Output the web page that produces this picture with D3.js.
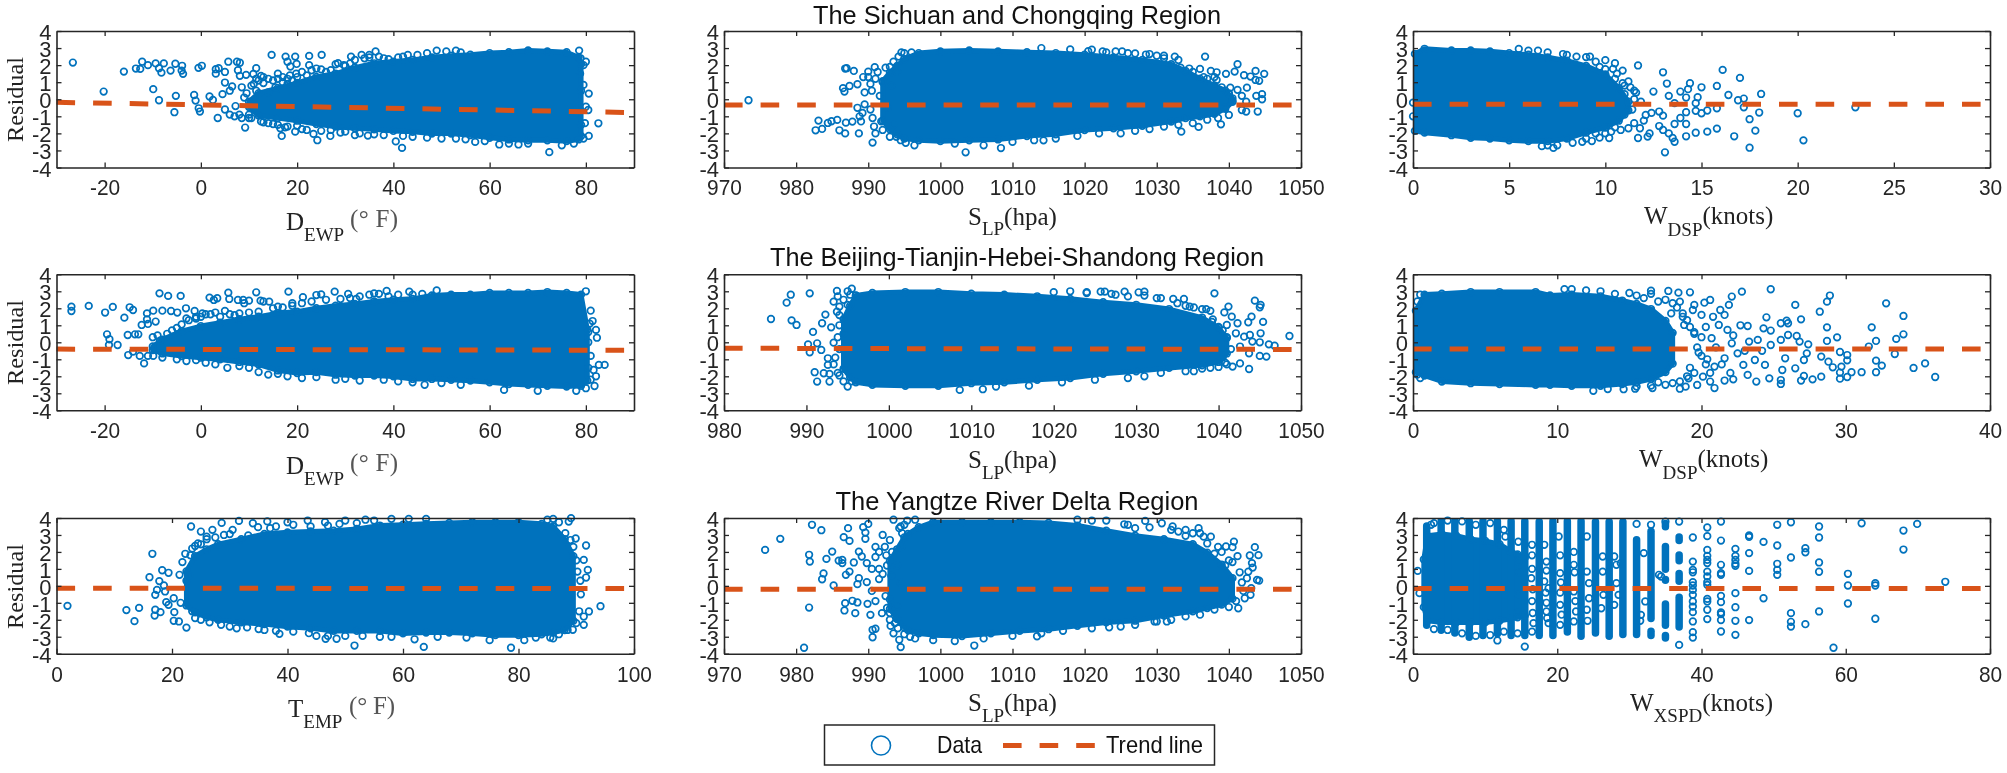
<!DOCTYPE html>
<html><head><meta charset="utf-8">
<script src="https://cdn.jsdelivr.net/npm/d3@7/dist/d3.min.js"></script>
<style>html,body{margin:0;padding:0;background:#fff}svg{display:block;filter:blur(.45px)}</style>
</head><body><svg id="c" width="2007" height="773"></svg>
<script>
// ---------- values ----------
const residualTicks=[-4,-3,-2,-1,0,1,2,3,4];
const dewTicks=[-20,0,20,40,60,80];
const slpTicks70=[970,980,990,1000,1010,1020,1030,1040,1050];
const slpTicks80=[980,990,1000,1010,1020,1030,1040,1050];
const wdsp30Ticks=[0,5,10,15,20,25,30];
const wdsp40Ticks=[0,10,20,30,40];
const tempTicks=[0,20,40,60,80,100];
const wxspdTicks=[0,20,40,60,80];
const regionTitles=["The Sichuan and Chongqing Region","The Beijing-Tianjin-Hebei-Shandong Region","The Yangtze River Delta Region"];

// dense clouds: [x, lowest residual, highest residual]
const p1Cloud=[[10,-.7,.1],[12,-1.2,.6],[16,-1.35,.9],[20,-1.5,1.2],[24,-1.7,1.55],[28,-1.85,1.75],[32,-1.95,2.1],[36,-2,2.35],[40,-2.1,2.45],[44,-2.15,2.55],[48,-2.25,2.7],[52,-2.25,2.8],[56,-2.35,2.85],[60,-2.5,2.95],[64,-2.6,3],[68,-2.65,3.1],[72,-2.65,3.05],[76,-2.7,3],[78.5,-2.6,2.7],[79,-2.4,2.3]];
const p2Cloud=[[992,-1.5,1.3],[993,-2,1.8],[994,-2.3,2.2],[995,-2.55,2.6],[997,-2.65,2.95],[1000,-2.7,3.05],[1004,-2.65,3.1],[1008,-2.6,3.05],[1012,-2.4,3],[1016,-2.3,2.95],[1020,-2.05,2.85],[1024,-1.95,2.7],[1028,-1.8,2.55],[1032,-1.55,2.3],[1034,-1.35,1.9],[1036,-1.25,1.45],[1038,-1.1,1.05],[1039.5,-.8,.75],[1040.5,-.4,.3]];
const p3Cloud=[[.1,-2.1,2.9],[.6,-2.2,3.2],[2,-2.35,3.1],[3,-2.5,3.1],[4,-2.55,3.05],[5,-2.65,2.95],[6,-2.7,2.85],[7,-2.7,2.7],[8,-2.55,2.5],[9,-2.2,2.2],[10,-1.9,1.7],[10.7,-1.5,.9],[11.2,-.9,.1]];
const p4Cloud=[[-10,-.7,0],[-8,-.9,.4],[-4,-1.05,.9],[0,-1.15,1.2],[4,-1.25,1.4],[8,-1.4,1.6],[12,-1.55,1.75],[16,-1.9,1.95],[20,-2.05,2.05],[24,-2,2.25],[28,-2.15,2.4],[32,-2.2,2.5],[36,-2.2,2.65],[40,-2.25,2.75],[44,-2.4,2.8],[48,-2.4,3],[52,-2.45,3.05],[56,-2.5,3.05],[60,-2.6,3.15],[64,-2.7,3.15],[68,-2.75,3.15],[72,-2.8,3.2],[76,-2.85,3.15],[79,-2.8,3.05],[80.3,-2.5,1]];
const p5Cloud=[[994.5,-1.8,1.6],[995.3,-2.3,2.4],[996,-2.6,3],[998,-2.75,3.15],[1002,-2.8,3.2],[1006,-2.8,3.2],[1010,-2.65,3.1],[1014,-2.6,3.05],[1018,-2.45,2.95],[1022,-2.35,2.8],[1026,-2.1,2.6],[1030,-1.95,2.45],[1034,-1.75,2.2],[1038,-1.6,1.7],[1040,-1.4,1.1],[1041,-.9,.5]];
const p6Cloud=[[.2,-2,2.1],[.8,-2.2,3.05],[2,-2.55,3.1],[4,-2.65,3.2],[6,-2.7,3.2],[8.5,-2.75,3.2],[9.5,-2.75,3],[11,-2.8,3.05],[13,-2.8,2.95],[14.5,-2.7,2.7],[15.5,-2.6,2.5],[16.5,-2.4,2.2],[17.5,-2,1.5],[18,-1.5,.8]];
const p7Cloud=[[22.5,-1.4,1.1],[24,-1.8,2],[26,-2.1,2.4],[28,-2.25,2.7],[32,-2.4,3],[36,-2.5,3.3],[40,-2.65,3.4],[44,-2.75,3.45],[48,-2.9,3.5],[52,-2.9,3.6],[56,-2.9,3.8],[60,-3.05,3.85],[64,-3,3.9],[68,-3,3.95],[72,-3.05,4],[76,-3.15,4],[80,-3.15,4],[84,-3.1,3.9],[86,-3,3.75],[88,-2.85,3],[89.5,-2.3,2]];
const p8Cloud=[[993,-1.6,1.7],[994,-2.2,2.4],[995,-2.7,3.1],[995.5,-2.85,3.3],[997,-3.05,3.7],[999,-3.15,4],[1003,-3.2,4],[1007,-3.05,4],[1011,-2.9,4],[1015,-2.8,3.95],[1019,-2.6,3.8],[1023,-2.4,3.5],[1027,-2.3,3.2],[1031,-2,3],[1035,-1.75,2.7],[1037,-1.55,2.2],[1039,-1.35,1.5],[1040.5,-1,.7]];
const p9Cloud=[[1.5,-1.5,1.8],[2,-2.3,3.2],[4,-2.4,3.3],[6,-2.4,3.2],[8,-2.4,3],[10,-2.4,2.9],[12,-2.3,2.7],[13.5,-2.2,2.3],[14.5,-2.1,2.1],[15.5,-2,1.9]];
// stripes of the rounded wind speeds: [x, lowest, highest]
const p9Stripes=[[1.9,-2.5,3.7],[3.9,-2.8,4],[5.8,-2.95,4],[7.8,-3.2,4],[9.7,-3.1,4],[11.7,-3,4],[13.6,-3.1,4],[15.5,-3.1,4],[17.5,-3.1,3.95],[19.4,-3.1,4],[21.4,-2.9,4],[23.3,-3.15,4],[25.3,-2.95,3.95],[27.2,-3.15,3.95],[29.1,-3.05,3.95],[31,-3.05,2.9],[33,-2.1,3.4],[33,-3.1,-2.5],[35,-2.5,-.9],[35,.2,.5],[35,.8,2.5],[35,3.3,3.85],[35,-3.1,-2.9],[36.9,-2.6,-.5],[36.9,.1,.9],[36.9,1.3,2],[36.9,2.5,3.05]];

// separate circles: [x, residual]
const p1Points=[[-26.6,2.15],[-20.2,.45],[-16,1.62],[-13.5,1.8],[-12.2,2.2],[-12.6,1.78],[-11,2],[-9.4,2.1],[-7.7,2.1],[-8.7,1.82],[-8.2,1.56],[-6.3,1.68],[-5.3,2.08],[-3.9,1.96],[-4,1.68],[-3.7,1.49],[-9.9,.59],[-8.7,-.06],[-5.2,.2],[-5.5,-.76],[-1.4,.25],[-1.1,-.08],[-.45,-.53],[-.2,-.72],[-.5,1.84],[.2,1.96],[1.8,.16],[2.5,-.04],[3.5,-1.1],[3.1,1.76],[3.7,1.82],[3.1,1.5],[5,1.6],[5.7,2.2],[5,.98],[6.5,.75],[7.5,2.2],[8.1,2.14],[7.7,1.7],[8.1,1.37],[9.4,1.43],[9.2,-1.66],[11.5,1.82],[10.9,1.48],[12.5,1.37],[14.7,2.6],[17.6,2.5],[19.6,2.5],[18,2.2],[18.6,1.92],[19.9,2.07],[19.8,1.5],[22.5,2.54],[22.5,2],[25.1,2.6],[16.8,-2.15],[19.6,-1.9],[23.4,-2.03],[24.2,-2.4],[26.9,-2.15],[31.2,2.5],[28.5,2.12],[29.7,2],[36.3,2.8],[33.4,2.6],[35,2.6],[32,-2.1],[34.7,-2.13],[40.5,-2.47],[41.8,-2.85],[78.6,2.85],[72.4,-3.1],[82.6,-1.41],[80.6,-2.15],[80.6,.33],[79.5,2],[80,2.2],[79.5,.84],[80,-.43],[80.5,-.63],[4.5,.3],[6,.5],[7.2,-.4],[8.5,.7],[9.5,.35],[10.5,.8],[11.5,.5],[13,.95],[14,.4],[15.5,.7],[17,1],[18,1.2],[10,-1.1],[12.5,-1.3],[15,-1.45],[17.5,-1.65]];
const p1Fringe=[[5,-.6],[6,-.9],[7,-1],[8,-.9],[8.5,-1.1],[9,.1],[10,-.9],[10.5,-1.1],[11,.9],[11.5,1.2],[12,1.1],[13,1.3],[14,1.2],[15,1.1],[16,1.5],[16,1.2],[17,1.3],[18,.9],[18.5,1.4],[19,1.1],[20,1.3],[21,1.6],[22,1.4],[23,1.7],[24,1.8],[25,1.75],[26,1.6],[27,1.7],[28,2.05],[30,1.95],[31,2.1],[32,2.3],[34,2.4],[35,2.45],[37,2.5],[38,2.4],[39,2.35],[41,2.45],[42,2.5],[43,2.6],[45,2.6],[47,2.7],[49,2.85],[51,2.8],[53,2.85],[54,2.75],[13,-1.35],[14,-1.4],[16,-1.5],[16.5,-1.7],[18,-1.6],[20,-1.55],[21,-1.75],[22,-1.8],[25,-1.85],[27,-1.8],[29,-1.95],[30,-1.9],[33,-2],[36,-2.05],[38,-2.1],[42,-2.15],[44,-2.2],[47,-2.25],[50,-2.3],[53,-2.3],[55,-2.35],[57,-2.5],[59,-2.45],[62,-2.65],[64,-2.6],[66,-2.65],[68,-2.6],[75,-2.7],[77.5,-2.6],[79,-1.5],[79.5,-2.3],[79.8,-1.4],[79,.5],[78.8,1.5],[78.9,2.4]];
const p2Points=[[973.4,-.06],[983.1,-1.25],[982.7,-1.82],[983.6,-1.74],[984.4,-1.39],[984.9,-1.29],[985.7,-1.21],[986,-1.82],[986.8,-2],[986.9,-1.37],[987.8,-1.31],[986.8,1.8],[987,1.82],[988,1.66],[986.5,.65],[986.7,.45],[987.4,.78],[988.5,.88],[990.9,1.88],[990,1.62],[990.6,-2.54],[988.7,-2],[1003.5,-3.11],[1008.4,-2.86],[1014.3,-2.41],[1033.4,-1.9],[1035.8,-1.62],[1038.9,-1.47],[1036.7,2.5],[1032.5,2.5],[1036,1.78],[1037.5,1.66],[1038.3,1.58],[1039.6,1.49],[1038.3,1.13],[1041.2,2.05],[1040.8,1.62],[1042.1,1.41],[1043,1.33],[1043.7,1.66],[1043.7,1.13],[1044.2,1.08],[1044.9,1.49],[1042.5,.68],[1041.2,.55],[1041.8,.2],[1044.6,.3],[1044.6,0],[1043.8,.2],[1042.4,-.14],[1041.8,-.63],[1042.4,-.72],[1044,-.72],[1040,-.92],[1040.2,.68],[1040,.35],[1024.3,2.8],[1025.2,2.8],[1022.5,2.8],[1020.5,2.82],[1030,2.55],[1028.5,2.62],[1031,2.55]];
const p2Fringe=[[988.5,-.5],[988.8,-1],[989,-1.3],[989.2,-.8],[989.5,-.3],[989.5,.4],[989.3,1.3],[990,1.3],[990.3,.9],[990.5,.5],[990.3,-.6],[990.6,-1.1],[990.8,-1.6],[991,-2],[991,1.2],[991.3,1.6],[991.6,.2],[991.8,-1.3],[992,-1.8],[992,1],[992.4,1.85],[992.7,-.5],[993,-2.2],[993,1.9],[993.2,.8],[993.5,2.2],[993.5,-1.5],[993.9,-2.2],[994,1.6],[994.2,2.5],[994.5,-2.4],[994.6,2.75],[995,2.7],[995.2,-2.55],[996,2.75],[996.4,-2.7],[1014,3],[1018,2.92],[1021,2.9],[1023,2.75],[1026,2.7],[1027,2.68],[1029,2.65],[1031,2.4],[1033,2.3],[1033.3,1.85],[1034.5,1.8],[1035,1.6],[1036.5,1.3],[1037,1.2],[1038,1.3],[1039,.7],[1040,.3],[1040.5,-.1],[1039.5,-.5],[1038.5,-1.1],[1037,-1.2],[1035,-1.4],[1033,-1.5],[1031,-1.6],[1029,-1.75],[1027,-1.85],[1025,-2],[1022,-2],[1019,-2.15],[1016,-2.3],[1013,-2.4],[1010,-2.5],[1006,-2.7],[1002,-2.6]];
const p3Points=[[10,2.29],[10,1.76],[10.5,2.11],[10.4,1.78],[10.9,1.68],[11.7,1.98],[13,1.58],[13.2,.92],[12.5,.45],[13.3,.2],[13.9,.45],[14.3,.59],[14.4,.94],[14.2,.1],[13.6,-.23],[14.8,.12],[14.7,-.23],[15,.7],[15.8,.78],[16.1,1.72],[17,1.25],[16.4,.25],[16.9,-.06],[17.2,.04],[18.1,.31],[17.2,-.47],[15.8,-.53],[15.3,-.66],[14.7,-.68],[15,-.82],[14.2,-.76],[13.9,-1.1],[18,-.78],[17.5,-1.17],[20,-.82],[23,-.47],[20.3,-2.41],[17.8,-1.84],[17.5,-2.84],[16.7,-2.17],[15.8,-1.72],[15.3,-1.9],[14.7,-1.96],[14.2,-2.17],[14.2,-1.45],[13.6,-1.45],[13.6,-2.49],[13.5,-2.27],[13.1,-3.11],[13.3,-2],[13,-1.8],[12.8,-1.57],[13,-.96],[12.8,-.72],[12.3,-2],[12.2,-2.19],[11.7,-2.27],[10.2,-2.27],[9.3,-2.45],[8.8,-2.49],[11.2,1.04],[10.9,.94],[11.3,.7],[11.6,.39],[11.85,-.14],[12.1,-.92],[11.8,-1.7],[11.2,-1.7],[10.8,-1.8],[10.3,-1.9],[9.5,-2],[9,2.47],[11,.3],[11.4,-.6],[12,-1.25],[12.4,-.8],[0,-.2],[0,-1]];
const p3Fringe=[[8,2.6],[8.5,2.5],[9.2,2.5],[9.5,2.2],[10,1.4],[10.5,1.2],[11,.8],[11.5,0],[11.5,.5],[10.6,1.5],[9.7,1.9],[11,-.9],[11.5,-1.4],[10.5,-1.65],[10,-2],[9.7,-2.25],[9,-2.3],[8.3,-2.55],[7.5,-2.7],[7.3,-2.85],[7,-2.7],[6.7,-2.75],[7.8,2.65],[7,2.75],[6.5,2.85],[6,2.85],[5.5,2.95]];
const p4Points=[[-26.9,2.1],[-26.9,1.84],[-23.3,2.14],[-19.9,1.75],[-18.3,2.08],[-15.9,1.45],[-14.8,2.06],[-14.1,1.9],[-19.5,.47],[-19,.18],[-19.1,-.16],[-17.3,-.16],[-15.2,.43],[-13.7,.47],[-13,.47],[-15.1,-.75],[-14.1,-.55],[-12.7,-.8],[-11.8,-1.24],[-9.9,-.8],[-12.3,1.02],[-11.2,1.35],[-11.2,1.7],[-9.9,1.86],[-9.4,1.22],[-11,1.08],[-8.6,2.88],[-6.8,2.73],[-4.2,2.73],[-8,1.86],[-6.2,1.84],[-4.9,1.75],[-3.1,2],[-1.3,1.84],[.3,1.7],[1.8,2.63],[2.7,2.49],[3.4,2.59],[5.7,2.92],[5.9,2.55],[7.7,2.49],[8.8,2.49],[11.5,2.94],[12.4,2.45],[14.2,2.39],[18.2,2.98],[21.2,2.65],[24,2.78],[25,2.82],[27.8,2.98],[30.6,2.84],[32.3,2.55],[36,2.88],[38.6,3.02],[43.3,2.98],[80,3],[81,1.86],[81.4,1.25],[82.1,.73],[82.3,.27],[83.9,-1.33],[82.7,-1.33],[82.1,-2],[81.8,-2.57],[81.6,-1.63],[-3,1.4],[-1,1.5],[1,1.65],[3,1.75],[5,1.85],[7,1.6],[9,2.3],[10,2.45],[13,2.4],[16,2.1],[19,2.3]];
const p4Fringe=[[-10,.3],[-9,.4],[-8.5,.1],[-7,.5],[-6,.7],[-5,.85],[-4,1.05],[-2.5,1.3],[-1,1.4],[0,1.5],[2,1.65],[4,1.5],[6,1.65],[8,1.7],[10,1.75],[12,1.8],[15,2],[17,2.05],[19,2.15],[21,2.3],[23,2.4],[26,2.5],[29,2.55],[31,2.6],[33,2.7],[35,2.8],[37,2.85],[39,2.7],[41,2.8],[44,2.8],[46,2.85],[49,3.05],[-11,-.8],[-8,-.9],[-5,-1],[-3,-1.1],[-1,-1.05],[1,-1.2],[3,-1.3],[5.5,-1.5],[8,-1.4],[10,-1.5],[12,-1.75],[14,-1.9],[16,-1.85],[18,-2],[21,-2.1],[24,-2.05],[28,-2.2],[30,-2.15],[33,-2.25],[38,-2.2],[41,-2.3],[44,-2.35],[46.5,-2.5],[50,-2.4],[54,-2.5],[63,-2.8],[70,-2.85],[78,-2.85],[80,-2.7],[81,-2.2],[80.5,-1.5],[81,-.8],[80.5,0],[80.5,.6],[80.8,1.1]];
const p5Points=[[985.7,1.37],[987.6,2.33],[988.1,2.8],[988.2,1.29],[988.8,1.02],[990.4,2.88],[990.8,.61],[990.2,-.12],[990.4,-.59],[991.3,-.06],[991.8,-.45],[991,-1.76],[992.1,-1.82],[991.3,-2.31],[992.8,-1.86],[992.8,-2.31],[992.6,-1.33],[992.6,-.94],[993.3,-.02],[991.9,1.12],[992.3,1.63],[993.3,2.39],[993.7,3.02],[993,.88],[1039.5,2.88],[1044.4,2.45],[1045.1,2.2],[1045,2.06],[1044,1.51],[1045.4,1.2],[1043.6,1.18],[1042.3,1.12],[1041.2,2.1],[1040.7,1.76],[1041.6,1.51],[1041,1.02],[1048.6,.37],[1045.1,.53],[1045,0],[1046.1,-.12],[1046.8,-.2],[1045.8,-.84],[1045,-.8],[1043.7,-1.57],[1042.6,-1.24],[1041.7,-1.43],[1043.1,.33],[1042.1,.53],[1043.8,.43],[1044.1,.04],[1043.7,-.65],[1042.6,-.25],[1035.8,2.55],[1028.6,2.98],[1025.7,2.98],[1026.2,2.98],[1031,2.98],[1030.3,2.94],[1011.4,-2.76],[1008.6,-2.8],[1024,2.9],[1027.5,2.8],[1032.5,2.6],[1034.5,2.55],[1036.5,2.1],[1038.5,1.95],[1039.2,1.2],[1040.8,-1.2],[1039,-1.5],[1037,-1.7]];
const p5Fringe=[[993.8,2.7],[994,2.1],[994.5,2.5],[995,3],[995,2.2],[995.3,2.8],[995.5,3.15],[994,1.6],[993.7,1.8],[994,1],[994.5,.5],[993.8,.3],[994,-.4],[993.5,-.9],[993.3,-1.3],[993.8,-1.8],[994,-1.95],[994.5,-2.3],[995,-2.6],[995.5,-2.3],[996,2.75],[1033,2.6],[1035,2.3],[1036,2.15],[1037,2.05],[1038,1.95],[1039,1.85],[1039.3,1.35],[1040,.9],[1040.5,.7],[1041,.3],[1041.5,-.4],[1040.5,-.9],[1041,-1.3],[1040,-1.45],[1038,-1.55],[1036,-1.7],[1033,-1.8],[1031,-2],[1029,-2.1],[1025,-2.2],[1021,-2.35],[1017,-2.55],[1013,-2.6],[1020,2.95],[1022,3],[1024,2.95],[1027,2.85],[1029,2.7],[1031,2.75]];
const p6Points=[[24.8,3.12],[26.5,2.2],[22.8,2.98],[22.1,2.69],[19.2,2.94],[18.4,2.92],[17.7,3.02],[16.5,3.04],[24.5,1.47],[26.9,1.35],[25.5,1.12],[25.9,1.27],[26,1.12],[28.2,1.8],[28.7,2.39],[28.9,2.75],[32.8,2.29],[34,1.55],[28.7,.88],[28.7,.08],[29.4,.29],[31.8,.88],[32.1,.08],[33.5,.2],[34,.47],[31.6,-.25],[29.6,-.57],[30.1,-.75],[30.1,-1.06],[33.4,-.69],[32.1,-1.08],[32.5,-1.37],[34.7,-1.51],[35.5,-1.24],[36.2,-2.04],[32.1,-1.76],[31.1,-1.76],[30.4,-1.76],[30.1,-2.04],[29.6,-2.14],[29.7,-1.43],[29.1,-1.47],[28.8,-1.14],[29.6,-1.78],[28.3,-2.02],[27.7,-2.18],[27.1,-1.98],[26.9,-2.25],[25.5,-2.45],[25.5,-2.22],[23.8,-2.31],[24.7,-2.12],[23.2,-1.92],[22.2,-2.18],[21.6,-2.25],[20.9,-2.69],[20.6,-2.31],[19.7,-2.51],[18.9,-2.61],[18.5,-2.73],[16.6,-2.69],[15.4,-2.73],[14.6,-2.76],[23.2,.96],[24.3,.82],[24.8,.69],[23.9,.14],[23.3,.04],[24.8,-.16],[25.5,.14],[26,.43],[26.6,.37],[26.8,.04],[27.4,-.12],[27.3,-.65],[28.3,-.84],[27.1,-1.04],[25.8,-.94],[24.4,-1.33],[23.7,-1.04],[22.9,-1.33],[25.6,-1.63],[26.5,-1.53],[22.1,-.06],[21.8,.73],[21.2,1.02],[21.6,1.61],[21.9,2.2],[20.6,2.49],[20.2,2.33],[18.5,2.39],[17.9,1.7],[20,1.61],[18.8,1.02],[20.7,.24],[22.5,-.65],[21.6,-.94],[20.9,-1.43],[20.1,-2.02],[19.1,-2.12],[19.5,.6],[20.3,.9],[19.8,-.6],[21,-.3],[19.2,-1.5],[20.6,-1.8],[21.4,-1.3],[22.2,.4],[22.7,1],[23,-.5],[24.2,-.5],[19.4,1.9],[20.8,1.5],[18.7,1.7],[19.5,2.2],[21.3,1.9],[20.4,-1],[22,-1.8]];
const p6Fringe=[[.3,2.4],[.5,2.8],[.3,-1.9],[.5,-2.1],[15,2.9],[15.5,2.75],[16,2.6],[16.5,2.85],[17,2.4],[17.5,2.5],[18,2.3],[18.3,2.05],[18.7,1.5],[19,1.3],[19.2,.9],[19.5,.5],[20,.3],[19.7,-.3],[20,-.8],[20.3,-1.3],[19.5,-1.8],[19,-2],[18.5,-2.3],[18,-2.4],[17.5,-2.5],[17,-2.35],[16.5,-2.55],[15.5,-2.6],[13.5,-2.75],[12.5,-2.85],[14,2.85],[13,3],[12,3.05],[11,3.12],[10.5,3.12]];
const p7Points=[[1.9,-1.18],[12.1,-1.43],[14.3,-1.3],[13.5,-2.08],[16.6,1.89],[16.1,.51],[18.3,.92],[19.4,.77],[17.8,.28],[18.6,.02],[17.4,-.24],[17.1,-.53],[18.8,-.33],[17.1,-1.41],[17,-1.75],[18,-1.55],[19,-.96],[20.3,-.73],[19.4,-1.12],[20.4,-1.55],[20.3,-2.06],[21.2,-2.1],[22.5,-2.46],[21.3,.65],[23.3,3.5],[22.3,1.89],[27,3.3],[28.6,3.71],[31.6,3.83],[34,3.69],[34.9,3.46],[33.2,2.97],[51.6,-3.52],[63.6,-3.6],[78.7,-3.65],[46.6,-3.12],[48.5,-3.12],[38.6,-2.83],[43.7,-2.79],[31.2,-2.5],[94.2,-1.2],[91.7,2.38],[89.9,2.79],[89.1,3.99],[88.7,3.79],[88.1,3.1],[91.3,1.53],[92,.94],[91.7,.49],[90.2,.84],[92.2,-1.51],[91.3,-1.81],[91.3,-2.3],[89.4,-2.59],[85.5,-3.05],[25,3.2],[26,2.9],[30,3.05],[30.5,3.3],[36.5,3.8],[40,3.75],[43.5,3.85],[46.5,3.75],[50,3.85],[53.5,3.9],[21.8,1.4],[22.5,.3],[21.5,-1]];
const p7Fringe=[[23,.6],[23.2,1.8],[23.5,2.2],[24,2.35],[24.5,2.5],[25,2.45],[26,2.75],[27.5,2.85],[29,3],[23.5,-1.5],[24,-1.9],[25,-2],[26.5,-2.15],[28.5,-2.3],[30,-2.4],[33,-2.45],[35,-2.55],[36,-2.6],[38,-2.65],[41,-2.7],[45,-2.95],[47,-2.95],[50,-2.95],[53,-2.95],[56,-3],[58,-3],[62,-3.15],[66,-3],[71,-3.05],[75,-3.2],[81,-3.2],[83,-3.05],[86,-3.1],[87,-2.85],[88.5,-2.6],[90,-2.2],[90.5,-1.5],[90.8,-.5],[90.7,.3],[90,1.5],[89.5,2.3],[89,2.7],[37,3.4],[38,3.5],[41,3.6],[44,3.5],[47,3.55],[49,3.65],[52,3.7],[55,3.85],[58,3.95],[61,3.95],[64,3.95],[87,3.75],[86,3.95],[85,3.9]];
const p8Points=[[975.7,2.12],[977.8,2.77],[981.1,-3.65],[981.8,1.83],[981.9,1.43],[981.8,-1.28],[982.2,3.6],[983.5,3.28],[983.8,.73],[983.6,.39],[984.2,1.59],[985,2.02],[985.9,1.49],[986.4,1.53],[986.4,1.34],[985.2,.02],[986.9,.65],[987.4,.84],[988,1.38],[987.2,3.4],[986.6,2.87],[987.4,2.65],[986.8,-1.02],[986.7,-1.45],[987.8,-.88],[988.2,-1.61],[988.5,-.98],[988.7,.45],[988.5,.1],[989.8,.22],[989.3,3.46],[990,3.65],[989.6,3.14],[989.6,2.77],[988.7,2.02],[989.1,1.73],[989.8,1.34],[990.3,-1.71],[989.9,-1.06],[990.6,-2.59],[991,-2.53],[990.6,-3.03],[991.9,-1.61],[993.1,-2.36],[994.5,-3.61],[994.3,-3.18],[1004.7,-3.52],[1013.4,-2.97],[1035.8,3.4],[1040.7,2.61],[1039.6,2.32],[1040.5,2.28],[1043.6,2.28],[1044.1,1.81],[1042.9,1.79],[1041.2,1.75],[1043.2,1.34],[1043.3,1.08],[1042.7,.84],[1044.2,.31],[1043.9,.35],[1042.5,.45],[1043.1,-.14],[1043,-.53],[1041.3,-1.32],[1042.2,-.73],[1030.7,3.69],[1032.2,3.5],[1028.4,3.83],[1025.5,3.63],[1029.7,-2.1],[1031.4,-2.1],[1023.4,-2.44],[993.5,3.9],[994.5,3.5],[992,3],[991,2.3],[990.5,1],[991.5,.4],[990.5,-.3],[991,-.9],[993,-2],[991.5,2],[1034,3.3],[1036,3.1],[1037.5,2.9],[1038.5,2.3],[1040,1.5]];
const p8Fringe=[[991,1.7],[991.5,1],[992,.7],[992.3,2.3],[992.5,1.8],[992.6,1.2],[993,2.7],[993.3,2],[993.2,.6],[993,-.8],[992.6,-1.3],[992.4,-.6],[993,-1.6],[993.7,-2.2],[993.5,-2.8],[994,-1.2],[994.1,-2.5],[994,1.2],[994.3,3.4],[994.7,3.1],[994.6,2.3],[994.5,.2],[995,-2.85],[995,3.6],[995.4,3.85],[995.8,-3],[996.5,3.9],[996.5,-3.1],[1019,3.9],[1021,3.85],[1023,3.85],[1026,3.6],[1027,3.4],[1029,3.45],[1032,3.3],[1033,3.2],[1034,2.95],[1035,3.1],[1036.5,2.9],[1037,2.5],[1038,1.9],[1039,2],[1039.5,1.2],[1040.5,1.4],[1041.5,.8],[1041.8,.2],[1042,-.3],[1041,-.9],[1040,-1.25],[1038,-1.4],[1036,-1.7],[1034,-1.8],[1032,-2],[1030,-2.1],[1027,-2.3],[1025,-2.4],[1021,-2.5],[1017,-2.65],[1014,-2.8],[1010,-2.95],[1006,-3.1],[1002,-3.25],[999,-3.2]];
const p9Points=[[14.6,1.43],[16.5,2.42],[18.2,2.42],[18.5,1.43],[18.2,.26],[18.8,-.14],[20.2,2.91],[20.4,.75],[20.4,-1.12],[20.4,-2.3],[22.3,1.24],[22.3,-.33],[22.6,-1.51],[24.1,2.91],[24.1,.84],[24.4,.16],[24.4,-.73],[24.1,-1.41],[24.2,-2.06],[26.3,1.73],[26.3,.84],[26.4,-.53],[26.1,-1.32],[28.2,1.24],[28.2,.16],[27.9,1.73],[27.9,-1.12],[28.5,-.53],[32,1.93],[32.2,-.92],[31.6,-1.71],[31.5,-2.06],[28.8,1.34],[16.4,.45],[17.6,-.92],[18.5,-1.51],[16.7,-2.2],[18.8,-2.2],[34.1,.65],[34.4,.55],[11.7,-3.22],[15.5,-3.58],[36.9,-3.48],[36.9,3.79],[33,3.6],[31,3.65],[.65,.88],[.9,-.43],[35,3.79],[38.8,1.43],[38.8,.94],[38.8,.8],[38.8,.22],[38.8,.02],[38.8,-.24],[38.8,-.53],[38.8,-.92],[38.8,-1.22],[38.8,-1.55],[38.8,-2.1],[38.8,-2.73],[38.8,-3.05],[38.8,2.85],[40.8,3.44],[40.8,2.93],[40.8,2.12],[40.8,1.77],[40.8,1.53],[40.8,1.34],[40.8,.84],[40.8,.55],[40.8,.22],[40.8,.06],[40.8,-.77],[40.8,-.92],[40.8,-1.41],[40.8,-1.96],[42.7,3.79],[42.7,2.67],[42.7,1.24],[42.7,.75],[42.7,.65],[42.7,-.59],[42.7,-.96],[42.7,-1.57],[42.7,-1.67],[42.7,-2.02],[42.7,-2.69],[44.7,2.18],[44.7,1.77],[44.7,1.53],[44.7,1.3],[44.7,1.18],[44.7,-.43],[44.7,-1.26],[44.7,-2.06],[44.7,-2.89],[46.6,2.97],[46.6,2.89],[46.6,1.93],[46.6,.88],[46.6,-2.02],[48.6,2.59],[48.6,-.73],[50.5,3.6],[50.5,2.38],[50.5,1.3],[50.5,.94],[50.5,.65],[52.4,3.75],[52.4,1.67],[52.4,-1.61],[52.4,-2.12],[52.4,-2.4],[54.4,2.22],[54.4,1.98],[54.4,-2.26],[56.3,3.5],[56.3,2.85],[56.3,1.38],[56.3,.83],[56.3,-1.51],[58.3,-3.65],[60.3,.71],[60.3,.02],[60.3,-1.04],[62.2,3.69],[64.1,.16],[64.1,.02],[64.1,-1.94],[68,3.26],[68,2.14],[69.9,3.65],[73.8,.24]];
const p9Fringe=[[14.6,2.6],[14.7,.8],[14.6,-.5],[14.5,-1.6],[16.5,1.8],[16.5,1],[16.6,-.2],[16.5,-.9],[16.6,-1.6],[18.5,.9],[18.4,-.4],[18.5,-1],[18.6,-1.9],[20.4,1.8],[20.5,.2],[20.4,-.4],[20.6,-1.7],[22.3,2],[22.4,.8],[22.5,-.9],[22.3,-2.1],[12.6,3.3],[12.8,2.9],[10.7,3.7],[8.7,3.6],[6.8,3.8],[4.8,3.85],[2.9,3.7],[2.5,3.6],[12.6,-2.7],[10.7,-2.9],[8.7,-2.95],[6.8,-2.8],[4.8,-2.6],[2.9,-2.55],[14.5,-2.8],[16.5,-2.7]];

// trend lines: residual at the two ends of the axis
const p1Trend=[-.18,-.78],p2Trend=[-.33,-.33],p3Trend=[-.3,-.3],p4Trend=[-.4,-.47],p5Trend=[-.35,-.42],p6Trend=[-.4,-.4],p7Trend=[-.14,-.16],p8Trend=[-.2,-.2],p9Trend=[-.15,-.16];

// ---------- layout ----------
const BLUE="#0072BD",ORANGE="#D95319",INK="#262626";
const cols=[[56.5,634],[724,1301],[1413,1990]];
const rows=[[31,167.5],[274.3,410.3],[518,653.7]];
const R=3.3,SW=1.7,INSET=R+SW/2;
const svg=d3.select("#c");
const sans="'Liberation Sans',Arial,sans-serif",serif="'Liberation Serif','Times New Roman',serif";
const defs=svg.append("defs");

const panels=[
 {r:0,c:0,dom:[-30,90],t:dewTicks,cloud:p1Cloud,pts:p1Points.concat(p1Fringe),trend:p1Trend},
 {r:0,c:1,dom:[970,1050],t:slpTicks70,cloud:p2Cloud,pts:p2Points.concat(p2Fringe),trend:p2Trend},
 {r:0,c:2,dom:[0,30],t:wdsp30Ticks,cloud:p3Cloud,pts:p3Points.concat(p3Fringe),trend:p3Trend},
 {r:1,c:0,dom:[-30,90],t:dewTicks,cloud:p4Cloud,pts:p4Points.concat(p4Fringe),trend:p4Trend},
 {r:1,c:1,dom:[980,1050],t:slpTicks80,cloud:p5Cloud,pts:p5Points.concat(p5Fringe),trend:p5Trend},
 {r:1,c:2,dom:[0,40],t:wdsp40Ticks,cloud:p6Cloud,pts:p6Points.concat(p6Fringe),trend:p6Trend},
 {r:2,c:0,dom:[0,100],t:tempTicks,cloud:p7Cloud,pts:p7Points.concat(p7Fringe),trend:p7Trend},
 {r:2,c:1,dom:[970,1050],t:slpTicks70,cloud:p8Cloud,pts:p8Points.concat(p8Fringe),trend:p8Trend},
 {r:2,c:2,dom:[0,80],t:wxspdTicks,cloud:p9Cloud,pts:p9Points.concat(p9Fringe),trend:p9Trend,stripes:p9Stripes}
];

const tickText=d=>String(d);
panels.forEach((p,i)=>{
 const [x0,x1]=cols[p.c],[y0,y1]=rows[p.r];
 const x=d3.scaleLinear().domain(p.dom).range([x0,x1]);
 const y=d3.scaleLinear().domain([-4,4]).range([y1,y0]);
 defs.append("clipPath").attr("id","clip"+i).append("rect").attr("x",x0).attr("y",y0).attr("width",x1-x0).attr("height",y1-y0);
 const g=svg.append("g");
 const clipped=g.append("g").attr("clip-path",`url(#clip${i})`);
 // the cloud limits were read at the outer edge of the markers, so their centres lie one marker radius inside
 const mid=d=>(y(d[1])+y(d[2]))/2;
 const yLo=d=>Math.max(y(d[1])-INSET,mid(d));
 const yHi=d=>Math.min(y(d[2])+INSET,mid(d));
 const area=d3.area().x(d=>x(d[0])).y0(yLo).y1(yHi);
 clipped.append("path").datum(p.cloud).attr("d",area).attr("fill",BLUE).attr("stroke",BLUE).attr("stroke-width",5).attr("stroke-linejoin","round");
 if(p.stripes) clipped.selectAll("line.s").data(p.stripes).join("line").attr("class","s")
   .attr("x1",d=>x(d[0])).attr("x2",d=>x(d[0])).attr("y1",d=>y(d[1])-3).attr("y2",d=>y(d[2])+3)
   .attr("stroke",BLUE).attr("stroke-width",7.5).attr("stroke-linecap","round");
 const edge=p.cloud.flatMap(d=>[[d[0],yLo(d)],[d[0],yHi(d)]]);
 g.selectAll("circle.e").data(edge).join("circle").attr("class","e").attr("cx",d=>x(d[0])).attr("cy",d=>d[1])
   .attr("r",R).attr("fill","none").attr("stroke",BLUE).attr("stroke-width",SW);
 g.selectAll("circle.p").data(p.pts).join("circle").attr("class","p").attr("cx",d=>x(d[0])).attr("cy",d=>y(d[1]))
   .attr("r",R).attr("fill","none").attr("stroke",BLUE).attr("stroke-width",SW);
 g.append("line").attr("x1",x(p.dom[0])).attr("x2",x(p.dom[1])).attr("y1",y(p.trend[0])).attr("y2",y(p.trend[1]))
   .attr("stroke",ORANGE).attr("stroke-width",5).attr("stroke-dasharray","18.6 18");
 // axes with inward ticks on all four sides
 const st=s=>s.call(a=>a.select(".domain").attr("stroke",INK).attr("stroke-width",1.6))
    .call(a=>a.selectAll(".tick line").attr("stroke",INK).attr("stroke-width",1.3));
 g.append("g").attr("transform",`translate(0,${y1})`).call(d3.axisBottom(x).tickValues(p.t).tickSizeInner(-5).tickSizeOuter(0).tickFormat(tickText)).call(st)
   .call(a=>a.selectAll("text").attr("dy",0).attr("y",28).attr("font-size",22).attr("font-family",sans).attr("fill",INK).attr("transform","scale(.95,1)"));
 g.append("g").attr("transform",`translate(0,${y0})`).call(d3.axisTop(x).tickValues(p.t).tickSizeInner(-5).tickSizeOuter(0).tickFormat("")).call(st);
 g.append("g").attr("transform",`translate(${x0},0)`).call(d3.axisLeft(y).tickValues(residualTicks).tickSizeInner(-5).tickSizeOuter(0).tickFormat(tickText)).call(st)
   .call(a=>a.selectAll("text").attr("dy",0).attr("x",-5).attr("y",8.5).attr("font-size",22).attr("font-family",sans).attr("fill",INK));
 g.append("g").attr("transform",`translate(${x1},0)`).call(d3.axisRight(y).tickValues(residualTicks).tickSizeInner(-5).tickSizeOuter(0).tickFormat("")).call(st);
});

// titles
[[24,408],[266,494],[510,363]].forEach((v,i)=>{
 svg.append("text").text(regionTitles[i]).attr("x",1017).attr("y",v[0]).attr("text-anchor","middle")
  .attr("font-family",sans).attr("font-size",25).attr("fill","#111").attr("textLength",v[1]).attr("lengthAdjust","spacingAndGlyphs");
});
// y labels
[99.5,342.5,586.5].forEach(c=>{
 svg.append("text").text("Residual").attr("transform",`translate(23,${c}) rotate(-90)`).attr("text-anchor","middle")
  .attr("font-family",serif).attr("font-size",24).attr("fill","#222").attr("textLength",85).attr("lengthAdjust","spacingAndGlyphs");
});
// x labels: main letter, subscript, remainder
const xLabels=[
 ["D","EWP","(° F)",286,230,11,350,398],["S","LP","(hpa)",968,225,10,0,0],["W","DSP","(knots)",1644,224,12,0,0],
 ["D","EWP","(° F)",286,474,11,350,398],["S","LP","(hpa)",968,468,11,0,0],["W","DSP","(knots)",1639,467,12,0,0],
 ["T","EMP","(° F)",288,716.5,11,349,395],["S","LP","(hpa)",968,711,11,0,0],["W","XSPD","(knots)",1630,711,11,0,0]];
xLabels.forEach(l=>{
 const t=svg.append("text").attr("x",l[3]).attr("y",l[4]).attr("font-family",serif).attr("font-size",25).attr("fill","#222");
 t.append("tspan").text(l[0]);
 t.append("tspan").text(l[1]).attr("font-size",19).attr("dy",l[5]);
 const rest=t.append("tspan").text(l[2]).attr("dy",-l[5]);
 if(l[6]){rest.attr("x",l[6]).attr("dy",-l[5]-3).attr("fill","#555").attr("textLength",l[7]-l[6]).attr("lengthAdjust","spacing");}
});
// legend
svg.append("rect").attr("x",824.5).attr("y",725).attr("width",390).attr("height",40).attr("fill","#fff").attr("stroke",INK).attr("stroke-width",1.5);
svg.append("circle").attr("cx",881).attr("cy",745.5).attr("r",9.5).attr("fill","none").attr("stroke",BLUE).attr("stroke-width",1.6);
svg.append("text").text("Data").attr("x",937).attr("y",753).attr("font-family",sans).attr("font-size",24).attr("fill","#111").attr("textLength",45).attr("lengthAdjust","spacingAndGlyphs");
svg.append("line").attr("x1",1003).attr("x2",1095).attr("y1",745.5).attr("y2",745.5).attr("stroke",ORANGE).attr("stroke-width",5).attr("stroke-dasharray","18.6 18");
svg.append("text").text("Trend line").attr("x",1106).attr("y",753).attr("font-family",sans).attr("font-size",24).attr("fill","#111").attr("textLength",97).attr("lengthAdjust","spacingAndGlyphs");
</script></body></html>
